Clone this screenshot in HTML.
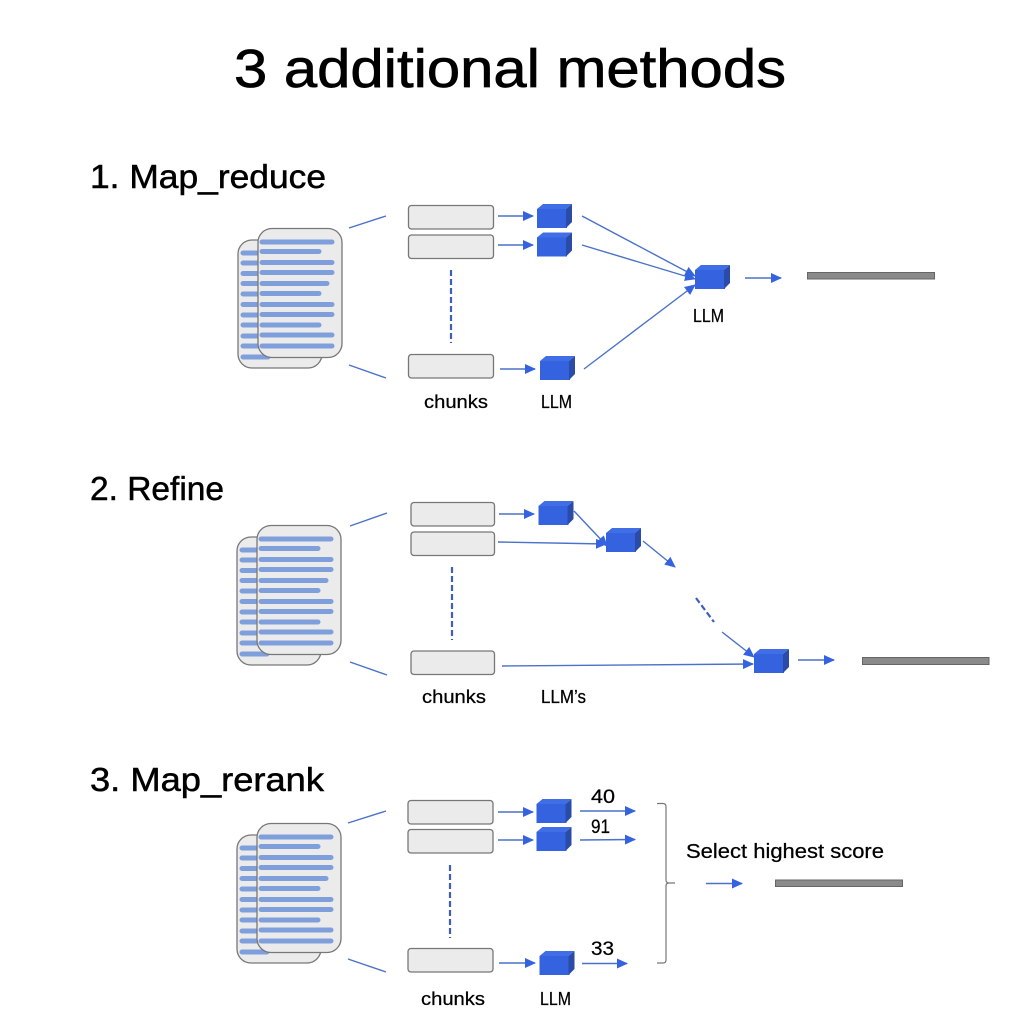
<!DOCTYPE html>
<html>
<head>
<meta charset="utf-8">
<style>
html,body{margin:0;padding:0;background:#fff;}
svg{display:block;}
text{font-family:"Liberation Sans",sans-serif;fill:#000;stroke:#000;stroke-width:0.25;}
.l{stroke:#4a72c8;stroke-width:1.4;fill:none;}
.t{font-size:18px;}
.h{font-size:33px;stroke-width:0.5;}
.d{stroke:#3f5fb8;stroke-width:2.2;stroke-dasharray:6 3;fill:none;}
</style>
</head>
<body>
<svg width="1022" height="1020" viewBox="0 0 1022 1020" xmlns="http://www.w3.org/2000/svg">
<defs>
  <g id="cube">
    <rect x="0" y="5" width="30" height="19" fill="#3563e0"/>
    <polygon points="0,5 6,0 35,0 29,5" fill="#3f6ee6"/>
    <polygon points="29,5 35,0 35,18 29,24" fill="#2a4ba8"/>
  </g>
  <g id="docs">
    <rect x="238" y="240" width="84" height="128" rx="14" fill="#ebebeb" stroke="#777" stroke-width="1.3"/>
    <g stroke="#7f9fdc" stroke-width="5" stroke-linecap="round">
      <path d="M243 253H262M243 263H262M243 273.500H262M243 283.500H262M243 294H262M243 304.500H262M243 315H262M243 325H262M243 336H262M243 346H262M243 357H268"/>
    </g>
    <rect x="258" y="228.500" width="84" height="129" rx="14" fill="#ebebeb" stroke="#777" stroke-width="1.3"/>
    <g stroke="#7f9fdc" stroke-width="5" stroke-linecap="round">
      <path d="M262 242H332M262 251.500H319M262 262.500H332M262 272.500H332M262 283.500H327M262 293.500H319M262 304.500H332M262 314.500H332M262 325H319M262 335H332M262 346H332"/>
    </g>
  </g>
  <marker id="a" viewBox="0 0 11 10" refX="10" refY="5" markerWidth="11" markerHeight="10" markerUnits="userSpaceOnUse" orient="auto">
    <path d="M0 0L11 5L0 10Z" fill="#3563e0"/>
  </marker>
</defs>

<text x="234" y="87" font-size="54" textLength="552" lengthAdjust="spacingAndGlyphs" style="stroke-width:0.7">3 additional methods</text>

<!-- Section 1 -->
<text x="90" y="188" class="h" textLength="236" lengthAdjust="spacingAndGlyphs">1. Map_reduce</text>
<use href="#docs"/>
<path class="l" d="M349 228L386 216M349 365L386 378"/>
<g fill="#ebebeb" stroke="#777" stroke-width="1.3">
  <rect x="408.500" y="205.500" width="85" height="23.500" rx="3"/>
  <rect x="408.500" y="235" width="85" height="23.500" rx="3"/>
  <rect x="408.500" y="354.500" width="85" height="23.500" rx="3"/>
</g>
<path class="d" d="M451 270V343"/>
<g class="l" marker-end="url(#a)">
  <path class="l" marker-end="url(#a)" d="M498 216H533"/>
  <path class="l" marker-end="url(#a)" d="M498 245H533"/>
  <path class="l" marker-end="url(#a)" d="M500 369H535"/>
</g>
<use href="#cube" x="537" y="204"/>
<use href="#cube" x="537" y="232.500"/>
<use href="#cube" x="540" y="356"/>
<use href="#cube" x="695" y="265"/>
<path class="l" marker-end="url(#a)" d="M582 216L695 276"/>
<path class="l" marker-end="url(#a)" d="M582 245L695 279"/>
<path class="l" marker-end="url(#a)" d="M584 369L695 285"/>
<path class="l" marker-end="url(#a)" d="M745 278H781"/>
<rect x="807.500" y="272.500" width="127" height="6.500" fill="#8a8a8a" stroke="#666" stroke-width="1"/>
<text x="424" y="408" class="t" textLength="64" lengthAdjust="spacingAndGlyphs">chunks</text>
<text x="541" y="408" class="t" textLength="31" lengthAdjust="spacingAndGlyphs">LLM</text>
<text x="693" y="322" class="t" textLength="31" lengthAdjust="spacingAndGlyphs">LLM</text>

<!-- Section 2 -->
<text x="90" y="500" class="h" textLength="134" lengthAdjust="spacingAndGlyphs">2. Refine</text>
<use href="#docs" x="-1" y="297"/>
<path class="l" d="M350 526L387 513M350 662L387 675"/>
<g fill="#ebebeb" stroke="#777" stroke-width="1.3">
  <rect x="411" y="502.500" width="83.500" height="23.500" rx="3"/>
  <rect x="411" y="532" width="83.500" height="23.500" rx="3"/>
  <rect x="411" y="651" width="83.500" height="23.500" rx="3"/>
</g>
<path class="d" d="M452 567V640"/>
<path class="l" marker-end="url(#a)" d="M499 514H534"/>
<use href="#cube" x="538.500" y="501"/>
<path class="l" marker-end="url(#a)" d="M574 511L607 546"/>
<path class="l" marker-end="url(#a)" d="M498 542L606 544"/>
<use href="#cube" x="606" y="528"/>
<path class="l" marker-end="url(#a)" d="M643 541L675 567"/>
<path class="d" d="M696 598L714 622"/>
<path class="l" marker-end="url(#a)" d="M722 632L754 657"/>
<path class="l" marker-end="url(#a)" d="M502 666L753 664"/>
<use href="#cube" x="754" y="649"/>
<path class="l" marker-end="url(#a)" d="M798 660H834"/>
<rect x="862.500" y="657.500" width="126.500" height="7" fill="#8a8a8a" stroke="#666" stroke-width="1"/>
<text x="422" y="703" class="t" textLength="64" lengthAdjust="spacingAndGlyphs">chunks</text>
<text x="541" y="703" class="t" textLength="45" lengthAdjust="spacingAndGlyphs">LLM’s</text>

<!-- Section 3 -->
<text x="90" y="791" class="h" textLength="234" lengthAdjust="spacingAndGlyphs">3. Map_rerank</text>
<use href="#docs" x="-1" y="595"/>
<path class="l" d="M348 823L386 811M348 959L386 972"/>
<g fill="#ebebeb" stroke="#777" stroke-width="1.3">
  <rect x="408" y="800.500" width="85" height="23.500" rx="3"/>
  <rect x="408" y="829.500" width="85" height="23.500" rx="3"/>
  <rect x="408" y="948.500" width="85" height="23.500" rx="3"/>
</g>
<path class="d" d="M450 865V938"/>
<path class="l" marker-end="url(#a)" d="M498 812H533"/>
<path class="l" marker-end="url(#a)" d="M498 840H533"/>
<path class="l" marker-end="url(#a)" d="M499 963H535"/>
<use href="#cube" x="536.500" y="799"/>
<use href="#cube" x="536.500" y="827"/>
<use href="#cube" x="539.500" y="951"/>
<path class="l" marker-end="url(#a)" d="M580 811H635"/>
<path class="l" marker-end="url(#a)" d="M580 840L635 839.500"/>
<path class="l" marker-end="url(#a)" d="M582 963.500H627"/>
<text x="591" y="803" font-size="19" textLength="24" lengthAdjust="spacingAndGlyphs">40</text>
<text x="591" y="833" font-size="19" textLength="19" lengthAdjust="spacingAndGlyphs">91</text>
<text x="591" y="955" font-size="19" textLength="23" lengthAdjust="spacingAndGlyphs">33</text>
<path d="M657 803.500H663Q666 803.500 666 807V880Q666 883 669 883H675M669 883Q666 883 666 886V960Q666 963 663 963H657" stroke="#777" stroke-width="1.2" fill="none"/>
<text x="686" y="858" font-size="20" textLength="198" lengthAdjust="spacingAndGlyphs">Select highest score</text>
<path class="l" marker-end="url(#a)" d="M706 883.500H742"/>
<rect x="775.500" y="880" width="127" height="6.500" fill="#8a8a8a" stroke="#666" stroke-width="1"/>
<text x="421" y="1005" class="t" textLength="64" lengthAdjust="spacingAndGlyphs">chunks</text>
<text x="540" y="1005" class="t" textLength="31" lengthAdjust="spacingAndGlyphs">LLM</text>
</svg>
</body>
</html>
